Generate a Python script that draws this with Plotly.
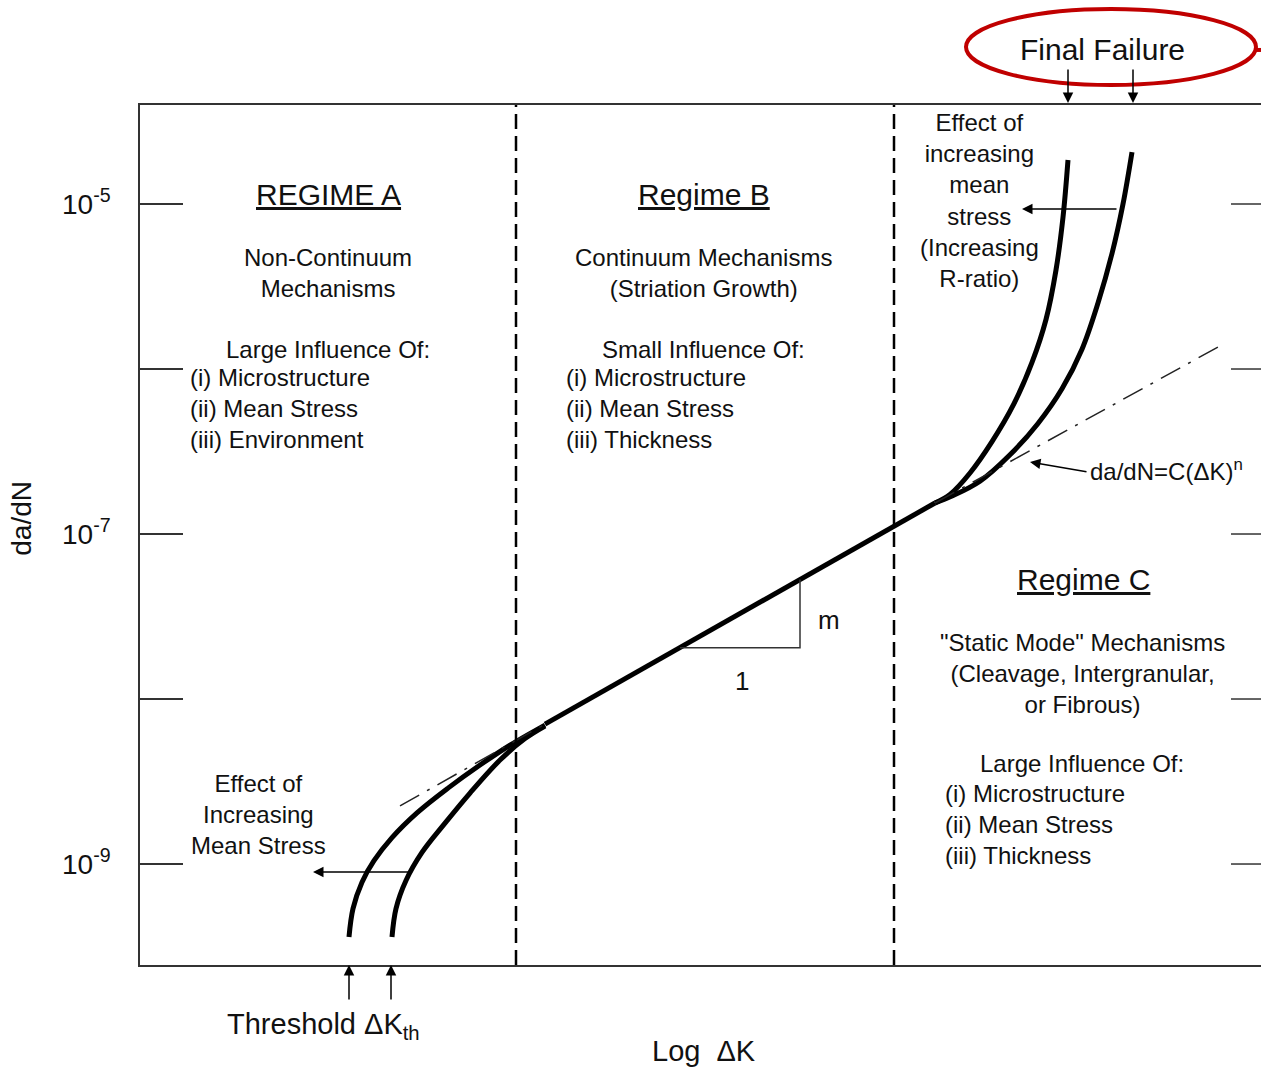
import numpy as np
import plotly.graph_objects as go

# ---- data: crack growth rate (da/dN) vs log(delta K), schematic units ----
# log10(da/dN) values along each branch; x is log(delta K) in arbitrary units
main_x = [4.05, 7.95]
main_logy = [-8.152, -6.812]

# near-threshold branches (regime A)
thrA_hiR_x = [2.09, 2.13, 2.22, 2.34, 2.52, 2.77, 3.08, 3.40, 3.70, 4.05]
thrA_hiR_logy = [-9.442, -9.270, -9.110, -8.980, -8.840, -8.690, -8.540, -8.400, -8.280, -8.158]
thrA_loR_x = [2.52, 2.56, 2.66, 2.82, 3.04, 3.30, 3.60, 3.85, 4.05]
thrA_loR_logy = [-9.442, -9.270, -9.100, -8.930, -8.760, -8.570, -8.370, -8.240, -8.164]

# final-failure branches (regime C)
ffC_hiR_x = [7.95, 8.10, 8.30, 8.52, 8.74, 8.92, 9.06, 9.16, 9.23, 9.28]
ffC_hiR_logy = [-6.812, -6.760, -6.630, -6.440, -6.210, -5.960, -5.700, -5.400, -5.080, -4.733]
ffC_loR_x = [7.95, 8.12, 8.40, 8.70, 8.98, 9.22, 9.42, 9.58, 9.72, 9.83, 9.92]
ffC_loR_logy = [-6.812, -6.770, -6.680, -6.520, -6.330, -6.120, -5.880, -5.600, -5.300, -5.000, -4.685]

# Paris-law extensions
paris_lo_x = [2.60, 4.05]
paris_lo_logy = [-8.648, -8.152]
paris_hi_x = [7.95, 10.80]
paris_hi_logy = [-6.812, -5.86]

# slope triangle
tri_x = [5.40, 6.60, 6.60]
tri_logy = [-7.69, -7.69, -7.276]

# regime boundaries (log delta K)
regime_bounds = [3.76, 7.54]

# y ticks: labelled decades and the unlabelled ones in between
label_vals = [1e-5, 1e-7, 1e-9]
label_text = ["10<sup>-5</sup>", "10<sup>-7</sup>", "10<sup>-9</sup>"]
minor_vals = [1e-6, 1e-8]
tick_vals = [1e-5, 1e-6, 1e-7, 1e-8, 1e-9]

X_RANGE = [0, 11.21]
Y_RANGE = [-9.612, -4.4]

FONT = "Liberation Sans, Arial, sans-serif"
TXT = "#111111"
AX = "#333333"


def lin(v):
    return list(10 ** np.array(v, dtype=float))


fig = go.Figure()

thick = dict(color="black", width=5)
for xs, ys in [(main_x, main_logy),
               (thrA_hiR_x, thrA_hiR_logy), (thrA_loR_x, thrA_loR_logy),
               (ffC_hiR_x, ffC_hiR_logy), (ffC_loR_x, ffC_loR_logy)]:
    fig.add_trace(go.Scatter(x=xs, y=lin(ys), mode="lines", line=dict(thick, shape="spline", smoothing=1.0),
                             hoverinfo="skip", showlegend=False))

for xs, ys in [(paris_lo_x, paris_lo_logy), (paris_hi_x, paris_hi_logy)]:
    fig.add_trace(go.Scatter(x=xs, y=lin(ys), mode="lines",
                             line=dict(color="#222222", width=1.5, dash="22px,9px,3px,9px"),
                             hoverinfo="skip", showlegend=False))

fig.add_trace(go.Scatter(x=tri_x, y=lin(tri_logy), mode="lines",
                         line=dict(color="#333333", width=1.5),
                         hoverinfo="skip", showlegend=False))

# ticks mirrored on the right-hand side
for tv in tick_vals:
    fig.add_trace(go.Scatter(x=[10.91, X_RANGE[1]], y=[tv, tv], mode="lines",
                             line=dict(color=AX, width=1.5),
                             hoverinfo="skip", showlegend=False))

# regime boundaries
for xb in regime_bounds:
    fig.add_shape(type="line", xref="x", yref="paper", x0=xb, x1=xb, y0=0, y1=1,
                  line=dict(color="black", width=2.5, dash="15px,7px"))

# highlight around "Final Failure"
fig.add_shape(type="circle", xref="x", yref="paper", x0=8.26, x1=11.16, y0=1.0233, y1=1.1116,
              line=dict(color="#C00000", width=4))
fig.add_shape(type="line", xref="x", yref="paper", x0=11.16, x1=11.25, y0=1.064, y1=1.064,
              line=dict(color="#C00000", width=4))

ann = []


def text(x, y, s, size=24, xref="x", yref="y", xanchor="center", align="center", angle=0):
    ann.append(dict(x=x, y=y, xref=xref, yref=yref, text=s, showarrow=False,
                    xanchor=xanchor, yanchor="middle", align=align, textangle=angle,
                    font=dict(family=FONT, size=size, color=TXT)))


def arrow(x, y, ax, ay, xref="x", yref="y", axref="pixel", ayref="pixel"):
    ann.append(dict(x=x, y=y, xref=xref, yref=yref, ax=ax, ay=ay, axref=axref, ayref=ayref,
                    text="", showarrow=True, arrowhead=2, arrowsize=1.4, arrowwidth=1.5,
                    arrowcolor="black", standoff=0, startstandoff=0))


# Regime A
text(1.88, -4.945, "<u>REGIME A</u>", size=30)
text(1.88, -5.418, "Non-Continuum<br>Mechanisms")
text(1.88, -5.879, "Large Influence Of:")
text(0.48, -6.242, "(i) Microstructure<br>(ii) Mean Stress<br>(iii) Environment", xanchor="left", align="left")
text(1.18, -8.697, "Effect of<br>Increasing<br>Mean Stress")

# Regime B
text(5.64, -4.945, "<u>Regime B</u>", size=30)
text(5.63, -5.418, "Continuum Mechanisms<br>(Striation Growth)")
text(5.63, -5.879, "Small Influence Of:")
text(4.24, -6.242, "(i) Microstructure<br>(ii) Mean Stress<br>(iii) Thickness", xanchor="left", align="left")
text(6.89, -7.521, "m", size=26)
text(6.02, -7.891, "1", size=26)

# Regime C
text(8.39, -4.979, "Effect of<br>increasing<br>mean<br>stress<br>(Increasing<br>R-ratio)")
text(9.48, -6.612, "da/dN=C(\u0394K)<sup>n</sup>", xanchor="left")
text(9.43, -7.273, "<u>Regime C</u>", size=30)
text(9.42, -7.848, "\"Static Mode\" Mechanisms<br>(Cleavage, Intergranular,<br>or Fibrous)")
text(9.42, -8.388, "Large Influence Of:")
text(8.03, -8.758, "(i) Microstructure<br>(ii) Mean Stress<br>(iii) Thickness", xanchor="left", align="left")

# outer labels
text(9.62, 1.064, "Final Failure", size=30, yref="paper")
text(1.83, -0.071, "Threshold \u0394K<sub>th</sub>", size=29, yref="paper")
text(5.64, -0.100, "Log\u00a0\u00a0\u0394K", size=29, yref="paper")
text(-0.1053, 0.52, "da/dN", size=28, xref="paper", yref="paper", angle=-90)

# arrows
arrow(9.28, 1.0023, 0, -35, yref="paper")
arrow(9.93, 1.0023, 0, -35, yref="paper")
arrow(2.09, 0.0, 0, 36, yref="paper")
arrow(2.51, 0.0, 0, 36, yref="paper")
arrow(1.73, -9.048, 2.72, -9.048, axref="x", ayref="y")
arrow(8.82, -5.03, 9.78, -5.03, axref="x", ayref="y")
arrow(8.90, -6.564, 9.48, -6.624, axref="x", ayref="y")

fig.update_layout(
    width=1261, height=1068,
    margin=dict(l=140, r=0, t=105, b=103),
    paper_bgcolor="white", plot_bgcolor="white",
    annotations=ann,
    showlegend=False,
    xaxis=dict(range=X_RANGE, showgrid=False, zeroline=False, showticklabels=False, ticks="",
               showline=True, mirror=True, linecolor=AX, linewidth=1.5),
    yaxis=dict(type="log", range=Y_RANGE, showgrid=False, zeroline=False,
               tickmode="array", tickvals=label_vals, ticktext=label_text,
               ticks="inside", ticklen=43,
               tickcolor=AX, tickwidth=1.5, ticklabelstandoff=22,
               tickfont=dict(family=FONT, size=28, color=TXT),
               minor=dict(tickmode="array", tickvals=minor_vals, ticks="inside", ticklen=43,
                          tickcolor=AX, tickwidth=1.5, showgrid=False),
               showline=True, mirror=False, linecolor=AX, linewidth=1.5),
)

fig.write_html("out.html")
